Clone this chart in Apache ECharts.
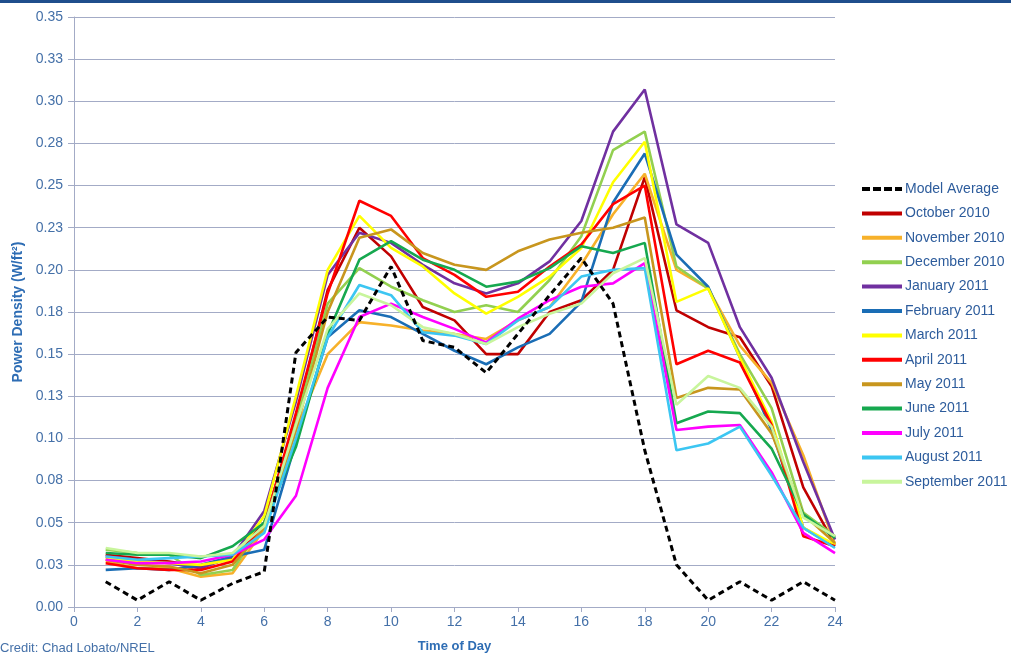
<!DOCTYPE html>
<html>
<head>
<meta charset="utf-8">
<script src="https://cdn.jsdelivr.net/npm/echarts@6/dist/echarts.min.js"></script>
<style>
html,body{margin:0;padding:0;background:#fff;}
#chart{width:1011px;height:658px;}
</style>
</head>
<body>
<div id="chart"></div>
<script>
const hours = [1,2,3,4,5,6,7,8,9,10,11,12,13,14,15,16,17,18,19,20,21,22,23,24];
const yTickLabels = ['0.00','0.03','0.05','0.08','0.10','0.13','0.15','0.18','0.20','0.23','0.25','0.28','0.30','0.33','0.35'];
const xTickLabels = ['0','2','4','6','8','10','12','14','16','18','20','22','24'];

const seriesNames = ['Model Average','October 2010','November 2010','December 2010','January 2011','February 2011','March 2011','April 2011','May 2011','June 2011','July 2011','August 2011','September 2011'];

const modelAverage = [0.015,0.004,0.015,0.004,0.014,0.021,0.151,0.172,0.170,0.202,0.158,0.154,0.139,0.162,0.185,0.207,0.180,0.093,0.025,0.004,0.015,0.004,0.015,0.004];
const october2010  = [0.031,0.029,0.027,0.024,0.029,0.050,0.112,0.188,0.225,0.208,0.178,0.170,0.150,0.150,0.175,0.182,0.200,0.255,0.176,0.166,0.160,0.131,0.071,0.037];
const november2010 = [0.027,0.023,0.023,0.018,0.020,0.046,0.105,0.150,0.169,0.167,0.164,0.162,0.159,0.170,0.178,0.203,0.233,0.257,0.200,0.189,0.155,0.133,0.090,0.037];
const december2010 = [0.034,0.032,0.031,0.019,0.022,0.050,0.110,0.180,0.201,0.190,0.182,0.175,0.179,0.175,0.194,0.220,0.271,0.282,0.202,0.189,0.150,0.118,0.056,0.042];
const january2011  = [0.030,0.028,0.026,0.023,0.030,0.057,0.122,0.197,0.222,0.216,0.203,0.192,0.186,0.192,0.205,0.229,0.282,0.307,0.227,0.216,0.166,0.136,0.086,0.040];
const february2011 = [0.022,0.023,0.022,0.025,0.030,0.034,0.098,0.160,0.176,0.172,0.162,0.152,0.144,0.154,0.162,0.181,0.240,0.269,0.209,0.190,0.148,0.105,0.047,0.036];
const march2011    = [0.029,0.027,0.026,0.025,0.028,0.054,0.125,0.200,0.232,0.213,0.202,0.186,0.174,0.184,0.196,0.213,0.252,0.276,0.181,0.189,0.148,0.110,0.047,0.037];
const april2011    = [0.026,0.023,0.022,0.022,0.027,0.048,0.115,0.186,0.241,0.232,0.207,0.197,0.184,0.187,0.202,0.215,0.239,0.250,0.144,0.152,0.145,0.108,0.042,0.036];
const may2011      = [0.028,0.025,0.024,0.020,0.025,0.047,0.105,0.175,0.219,0.224,0.210,0.203,0.200,0.211,0.218,0.222,0.225,0.231,0.124,0.130,0.129,0.103,0.055,0.038];
const june2011     = [0.032,0.031,0.031,0.029,0.036,0.050,0.095,0.162,0.206,0.217,0.206,0.200,0.190,0.193,0.201,0.214,0.210,0.216,0.109,0.116,0.115,0.094,0.055,0.041];
const july2011     = [0.028,0.026,0.026,0.027,0.031,0.040,0.066,0.130,0.172,0.180,0.172,0.165,0.157,0.171,0.182,0.190,0.192,0.204,0.105,0.107,0.108,0.080,0.044,0.032];
const august2011   = [0.030,0.028,0.029,0.030,0.031,0.044,0.100,0.160,0.191,0.185,0.163,0.161,0.156,0.170,0.178,0.196,0.200,0.201,0.093,0.097,0.107,0.078,0.047,0.035];
const september2011= [0.035,0.032,0.032,0.030,0.032,0.048,0.108,0.165,0.186,0.179,0.166,0.162,0.156,0.166,0.174,0.180,0.198,0.207,0.120,0.137,0.130,0.107,0.053,0.042];

const seriesValues = [modelAverage,october2010,november2010,december2010,january2011,february2011,march2011,april2011,may2011,june2011,july2011,august2011,september2011];
const seriesColors = ['#000000','#c00000','#f7b12a','#92d050','#7030a0','#1a6db5','#ffff00','#ff0000','#c8961e','#16a84f','#ff00ff','#3cc6f2','#c8f59c'];

const textBlue = '#4470a8';
const titleBlue = '#2e6db4';
const fontFam = 'Liberation Sans, Arial, sans-serif';

const chart = echarts.init(document.getElementById('chart'), null, {renderer:'canvas'});

const series = seriesNames.map((name, i) => ({
  name: name,
  type: 'line',
  symbol: 'none',
  smooth: false,
  z: i === 0 ? 3 : 2,
  data: hours.map((h, k) => [h, seriesValues[i][k]]),
  lineStyle: {
    color: seriesColors[i],
    width: i === 0 ? 3 : 2.6,
    type: i === 0 ? [6, 4] : 'solid'
  },
  itemStyle: { color: seriesColors[i] },
  emphasis: { disabled: true }
}));

const dashedIcon = 'path://M0,0h8v4h-8z M11,0h8v4h-8z M22,0h8v4h-8z M33,0h7v4h-7z';
const legendData = seriesNames.map((name, i) => ({ name: name, icon: i === 0 ? dashedIcon : 'rect' }));

chart.setOption({
  animation: false,
  backgroundColor: '#ffffff',
  grid: { left: 74, right: 176, top: 17, bottom: 51, containLabel: false },
  xAxis: {
    type: 'value', min: 0, max: 24, interval: 2,
    name: 'Time of Day', nameLocation: 'middle', nameGap: 33,
    nameTextStyle: { color: titleBlue, fontWeight: 'bold', fontSize: 13, fontFamily: fontFam },
    axisLine: { show: true, lineStyle: { color: '#a3abc6', width: 1 } },
    axisTick: { show: true, length: 5, lineStyle: { color: '#a3abc6' } },
    axisLabel: { color: textBlue, fontSize: 14, margin: 8, fontFamily: fontFam,
      formatter: (v) => xTickLabels[Math.round(v / 2)] },
    splitLine: { show: false }
  },
  yAxis: {
    type: 'value', min: 0, max: 0.35, interval: 0.025,
    name: 'Power Density (W/ft²)', nameLocation: 'middle', nameGap: 47, nameRotate: 90,
    nameTextStyle: { color: titleBlue, fontWeight: 'bold', fontSize: 14, fontFamily: fontFam },
    axisLine: { show: true, lineStyle: { color: '#a3abc6', width: 1 } },
    axisTick: { show: true, length: 6, lineStyle: { color: '#a3abc6' } },
    axisLabel: { color: textBlue, fontSize: 14, margin: 11, fontFamily: fontFam,
      formatter: (v) => yTickLabels[Math.round(v / 0.025)] },
    splitLine: { show: true, lineStyle: { color: '#a3abc6', width: 1 } }
  },
  legend: {
    orient: 'vertical', left: 857, top: 177,
    itemWidth: 40, itemHeight: 4, itemGap: 10.4,
    data: legendData,
    textStyle: { color: '#2d5c9c', fontSize: 14, fontFamily: fontFam, padding: [0,0,0,-2] },
    selectedMode: false
  },
  graphic: [
    { type: 'rect', left: 0, top: 0, shape: { width: 1011, height: 3 }, style: { fill: '#1f4e8c' } },
    { type: 'text', left: 0, top: 642, style: { text: 'Credit: Chad Lobato/NREL', fill: textBlue, fontSize: 13, fontFamily: fontFam } }
  ],
  series: series
});
</script>
</body>
</html>
